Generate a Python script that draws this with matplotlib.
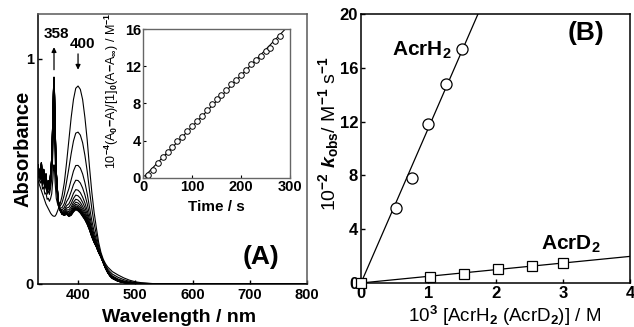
import numpy as np
import matplotlib
matplotlib.use("Agg")
import matplotlib.pyplot as plt

plt.rcParams['font.family'] = ['Liberation Sans', 'DejaVu Sans']
plt.rcParams['font.weight'] = 'bold'
plt.rcParams['mathtext.fontset'] = 'custom'
plt.rcParams['mathtext.rm'] = 'Liberation Sans:bold'
plt.rcParams['mathtext.it'] = 'Liberation Sans:bold:italic'
plt.rcParams['mathtext.bf'] = 'Liberation Sans:bold'

# ---- panel A: spectra ----
wl = [330, 332, 334, 336, 338, 340, 342, 344, 346, 348, 350, 352, 354, 356, 357, 358, 359, 360,
      362, 365, 368, 372, 376, 380, 384, 388, 392, 396, 400, 404, 408, 412, 416, 420, 424, 428,
      432, 436, 440, 444, 448, 452, 456, 460, 470, 480, 490, 500, 510, 530, 560, 600, 700, 800]
abs_first = [0.46, 0.445, 0.43, 0.415, 0.40, 0.385, 0.37, 0.355, 0.345, 0.335, 0.325, 0.315, 0.308,
             0.303, 0.302, 0.301, 0.301, 0.302, 0.31, 0.33, 0.35, 0.39, 0.45, 0.54, 0.64, 0.74,
             0.82, 0.87, 0.88, 0.865, 0.82, 0.74, 0.64, 0.52, 0.41, 0.32, 0.25, 0.185, 0.14, 0.11,
             0.09, 0.075, 0.065, 0.055, 0.04, 0.027, 0.017, 0.01, 0.006, 0.002, 0.001, 0.0, 0.0, 0.0]
abs_final = [0.53, 0.50, 0.48, 0.54, 0.46, 0.51, 0.45, 0.49, 0.43, 0.46, 0.44, 0.49, 0.56, 0.74,
             0.86, 0.92, 0.84, 0.70, 0.50, 0.38, 0.33, 0.31, 0.305, 0.31, 0.30, 0.305, 0.32, 0.33,
             0.325, 0.315, 0.30, 0.285, 0.265, 0.24, 0.21, 0.185, 0.165, 0.14, 0.12, 0.095, 0.07,
             0.05, 0.035, 0.025, 0.012, 0.006, 0.003, 0.0015, 0.0, 0.0, 0.0, 0.0, 0.0, 0.0]
# absorbance at 400 nm of each recorded spectrum
heights_400 = [0.88, 0.675, 0.527, 0.46, 0.417, 0.392, 0.373, 0.360, 0.350, 0.343,
               0.338, 0.334, 0.331, 0.329, 0.327, 0.325]

# ---- inset: first-order plot ----
time_s = [0, 10, 20, 30, 40, 50, 60, 70, 80, 90, 100, 110, 120, 130, 140, 150, 160, 170, 180,
          190, 200, 210, 220, 230, 240, 250, 260, 270, 280]
ratio = [0.0, 0.36, 0.9, 1.56, 2.25, 2.8, 3.3, 4.0, 4.4, 5.07, 5.6, 6.16, 6.67, 7.3, 7.9, 8.5,
         8.95, 9.5, 10.1, 10.5, 11.05, 11.6, 12.2, 12.7, 13.1, 13.6, 14.0, 14.7, 15.3]

# ---- panel B: kobs vs concentration ----
conc_h = [0.514, 0.756, 1.0, 1.26, 1.506]
kobs_h = [5.6, 7.8, 11.8, 14.8, 17.4]
conc_d = [0.0, 1.02, 1.53, 2.04, 2.54, 3.0]
kobs_d = [0.0, 0.45, 0.69, 1.04, 1.26, 1.51]

fig = plt.figure(figsize=(6.34, 3.27), dpi=100)

ax = fig.add_axes([0.0599, 0.1315, 0.4243, 0.8257])
wl_a = np.array(wl)
a0 = np.array(abs_first)
af = np.array(abs_final)
for h in heights_400:
    p = (heights_400[0] - h) / (heights_400[0] - heights_400[-1])
    ax.plot(wl_a, a0 + p * (af - a0), color='k', lw=0.8)
ax.set_xlim(330, 800)
ax.set_ylim(0, 1.2)
ax.set_xticks([400, 500, 600, 700, 800])
ax.set_yticks([0, 1])
ax.tick_params(direction='in', labelsize=10.5, length=3, width=1, pad=3, top=False, right=False)
for s in ax.spines.values():
    s.set_linewidth(1.1)
ax.spines['top'].set_color('0.35')
ax.spines['right'].set_color('0.35')
ax.set_xlabel('Wavelength / nm', fontsize=14, fontweight='bold', va='top')
ax.set_ylabel('Absorbance', fontsize=14.5, fontweight='bold')
ax.xaxis.set_label_coords(0.524, -0.092)
ax.yaxis.set_label_coords(-0.02, 0.5)
ax.annotate('', xy=(358, 1.065), xytext=(358, 0.94),
            arrowprops=dict(arrowstyle='-|>', color='k', lw=0.9, mutation_scale=7))
ax.annotate('', xy=(400, 0.94), xytext=(400, 1.035),
            arrowprops=dict(arrowstyle='-|>', color='k', lw=0.9, mutation_scale=7))
ax.text(363, 1.11, '358', fontsize=11, fontweight='bold', ha='center', va='center')
ax.text(408, 1.065, '400', fontsize=11, fontweight='bold', ha='center', va='center')
ax.text(0.828, 0.101, '(A)', transform=ax.transAxes, fontsize=19, fontweight='bold',
        ha='center', va='center')

axi = fig.add_axes([0.2256, 0.4557, 0.2319, 0.4556])
t = np.array(time_s)
r = np.array(ratio)
slope_i = np.sum(t * r) / np.sum(t * t)
tl = np.array([0, 300])
axi.plot(tl, slope_i * tl, color='k', lw=0.8)
axi.plot(t, r, 'o', mfc='white', mec='k', ms=4, mew=0.7)
axi.set_xlim(0, 300)
axi.set_ylim(0, 16)
axi.set_xticks([0, 100, 200, 300])
axi.set_yticks([0, 4, 8, 12, 16])
axi.tick_params(direction='in', labelsize=10.5, length=2.5, width=0.8, pad=1.5)
for s in axi.spines.values():
    s.set_color('0.4')
    s.set_linewidth(1.0)
axi.set_xlabel('Time / s', fontsize=11, fontweight='bold', va='top')
axi.set_ylabel(r'10$^{-4}$(A$_0$$-$A)/[1]$_0$(A$-$A$_\infty$) / M$^{-1}$', fontsize=9)
axi.xaxis.set_label_coords(0.5, -0.145)
axi.yaxis.set_label_coords(-0.15, 0.585)

axb = fig.add_axes([0.5694, 0.1346, 0.4243, 0.8226])
ch = np.array([0.0] + conc_h)
kh = np.array([0.0] + kobs_h)
cd = np.array(conc_d)
kd = np.array(kobs_d)
slope_h = np.sum(ch * kh) / np.sum(ch * ch)
slope_d = np.sum(cd * kd) / np.sum(cd * cd)
xl = np.array([0, 4])
axb.plot(xl, slope_h * xl, color='k', lw=0.9)
axb.plot(xl, slope_d * xl, color='k', lw=0.9)
axb.plot(conc_h, kobs_h, 'o', mfc='white', mec='k', ms=8, mew=0.9)
axb.plot(conc_d, kobs_d, 's', mfc='white', mec='k', ms=7, mew=0.9, clip_on=False, zorder=5)
axb.set_xlim(0, 4)
axb.set_ylim(0, 20)
axb.set_xticks([0, 1, 2, 3, 4])
axb.set_yticks([0, 4, 8, 12, 16, 20])
axb.tick_params(direction='in', labelsize=12, length=3, width=1, pad=2, top=False, right=False)
for s in axb.spines.values():
    s.set_linewidth(1.1)
axb.set_xlabel(r'10$^3$ [AcrH$_2$ (AcrD$_2$)] / M', fontsize=13.5, va='top')
axb.set_ylabel(r'10$^{-2}$ $k_{\mathrm{obs}}$/ M$^{-1}$ s$^{-1}$', fontsize=14)
axb.xaxis.set_label_coords(0.532, -0.078)
axb.yaxis.set_label_coords(-0.075, 0.554)
axb.text(0.226, 0.866, r'AcrH$_2$', transform=axb.transAxes, fontsize=15, ha='center', va='center')
axb.text(0.779, 0.145, r'AcrD$_2$', transform=axb.transAxes, fontsize=15, ha='center', va='center')
axb.text(0.838, 0.928, '(B)', transform=axb.transAxes, fontsize=19, fontweight='bold',
         ha='center', va='center')

fig.savefig('out.png', dpi=100)
